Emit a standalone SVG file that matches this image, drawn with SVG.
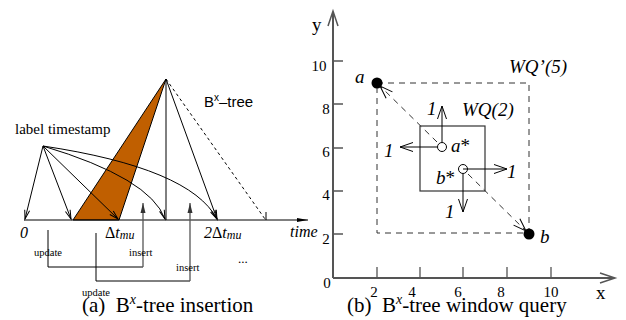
<svg xmlns="http://www.w3.org/2000/svg" width="626" height="320" viewBox="0 0 626 320">
<style>
.s{fill:none;stroke:#000;stroke-width:1}
.g{fill:none;stroke:#555;stroke-width:1.3}
.ax{fill:none;stroke:#555;stroke-width:2}
.d{fill:none;stroke:#333;stroke-width:1;stroke-dasharray:6 5}
.dd{fill:none;stroke:#000;stroke-width:1;stroke-dasharray:3 3}
.t{font-family:"Liberation Serif","Times New Roman",serif;fill:#000}
.i{font-style:italic}
.h{font-family:"Liberation Sans",Arial,sans-serif;fill:#000}
</style>
<defs>
<marker id="v" viewBox="-10 -5 12 10" refX="0" refY="0" markerWidth="12" markerHeight="10" markerUnits="userSpaceOnUse" orient="auto">
<path d="M-9,-2.5 L0,0 L-9,2.5" fill="none" stroke="#000" stroke-width="1"/>
</marker>
<marker id="f" viewBox="-12 -5 14 10" refX="0" refY="0" markerWidth="14" markerHeight="10" markerUnits="userSpaceOnUse" orient="auto">
<path d="M-11,-2 L0,0 L-11,2 Z" fill="#000"/>
</marker>
<marker id="fg" viewBox="-12 -5 14 10" refX="0" refY="0" markerWidth="14" markerHeight="10" markerUnits="userSpaceOnUse" orient="auto">
<path d="M-10,-2.5 L0,0 L-10,2.5 Z" fill="#333"/>
</marker>
<marker id="V" viewBox="-16 -8 18 16" refX="0" refY="0" markerWidth="18" markerHeight="16" markerUnits="userSpaceOnUse" orient="auto">
<path d="M-13,-4.5 L0,0 L-13,4.5" fill="none" stroke="#000" stroke-width="1"/>
</marker>
</defs>

<!-- Panel (a) -->
<g id="tree">
<polygon points="73,220 119,220 166,79" fill="#c05f00" stroke="#000" stroke-width="1"/>
</g>
<g id="timeaxis">
<path class="s" d="M24,220 H308" marker-end="url(#f)"/>
<path class="s" d="M266,212 V220"/>
</g>
<g id="connectors-a">
<path class="s" d="M43,146 L25,219" marker-end="url(#v)"/>
<path class="s" d="M43,146 L71,219" marker-end="url(#v)"/>
<path class="s" d="M43,146 L118,219" marker-end="url(#v)"/>
<path class="s" d="M43,146 Q150,178 165,219" marker-end="url(#v)"/>
<path class="s" d="M43,146 Q190,168 217,219" marker-end="url(#v)"/>
<path class="s" d="M166,79 V220"/>
<path class="s" d="M166,79 L217,219" marker-end="url(#v)"/>
<path class="dd" d="M166,79 L265,219"/>
<path class="s" d="M48,230 V267 H143"/>
<path class="s" d="M96,233 V281 H190"/>
<path class="g" d="M143,267 V203" marker-end="url(#fg)"/>
<path class="g" d="M190,281 V203" marker-end="url(#fg)"/>
</g>
<g id="labels-a">
<text class="t" x="15" y="134" font-size="15">label timestamp</text>
<text class="h" x="204" y="107" font-size="15">B<tspan font-size="10" dy="-6">x</tspan><tspan dy="6">–tree</tspan></text>
<text class="t i" x="20" y="238" font-size="16">0</text>
<text class="t" x="105" y="238" font-size="16">Δ<tspan class="i">t</tspan><tspan class="i" font-size="12" dy="1">mu</tspan></text>
<text class="t" x="204" y="238" font-size="16"><tspan class="i">2</tspan>Δ<tspan class="i">t</tspan><tspan class="i" font-size="12" dy="1">mu</tspan></text>
<text class="t i" x="290" y="237" font-size="16">time</text>
<text class="t" x="34" y="256" font-size="10.5">update</text>
<text class="t" x="129" y="256" font-size="10.5">insert</text>
<text class="t" x="176" y="271" font-size="10.5">insert</text>
<text class="t" x="82" y="296" font-size="10.5">update</text>
<text class="t" x="238" y="263" font-size="13">...</text>
<text class="t" x="82" y="312" font-size="21">(a)&#160; B<tspan class="i" font-size="14" dy="-8">x</tspan><tspan dy="8">-tree insertion</tspan></text>
</g>

<!-- Panel (b) -->
<g id="axes">
<path class="ax" d="M333,278 V12"/>
<path d="M328,26 L333,11 L338,26" fill="none" stroke="#555" stroke-width="1.5"/>
<path class="ax" d="M333,278 H613"/>
<path d="M600,273 L615,278 L600,283" fill="none" stroke="#555" stroke-width="1.5"/>
<path class="g" d="M333,61 H343 M333,104 H343 M333,148 H343 M333,191 H343 M333,234 H343"/>
<path class="g" d="M377,267 V278 M420,267 V278 M463,267 V278 M507,267 V278 M551,267 V278"/>
<text class="t" x="312" y="31" font-size="19">y</text>
<text class="t" x="596" y="299" font-size="19">x</text>
<g class="t" font-size="15" text-anchor="middle">
<text x="319" y="71">10</text>
<text x="326" y="114">8</text>
<text x="326" y="157">6</text>
<text x="326" y="200">4</text>
<text x="326" y="244">2</text>
<text x="327" y="288">0</text>
<text x="374" y="297">2</text>
<text x="412" y="297">4</text>
<text x="458" y="297">6</text>
<text x="501" y="297">8</text>
<text x="551" y="297">10</text>
</g>
</g>
<g id="WQ5">
<path class="d" d="M377,83 H529 V233 H377 Z"/>
<text class="t i" x="509" y="73" font-size="19">WQ’(5)</text>
</g>
<g id="WQ2">
<rect x="420" y="126" width="65" height="65" fill="none" stroke="#333" stroke-width="1.2"/>
<text class="t i" x="462" y="116" font-size="19">WQ(2)</text>
</g>
<g id="a">
<circle cx="377" cy="83" r="5.5" fill="#000"/>
<text class="t i" x="355" y="83" font-size="19">a</text>
</g>
<g id="b">
<circle cx="529" cy="234" r="5.5" fill="#000"/>
<text class="t i" x="540" y="243" font-size="19">b</text>
</g>
<g id="astar">
<circle cx="442" cy="147" r="4.5" fill="#fff" stroke="#000" stroke-width="1"/>
<text class="t" x="451" y="152" font-size="19"><tspan class="i">a</tspan>*</text>
</g>
<g id="bstar">
<circle cx="463" cy="169" r="4.5" fill="#fff" stroke="#000" stroke-width="1"/>
<text class="t" x="436" y="184" font-size="19"><tspan class="i">b</tspan>*</text>
</g>
<g id="connectors-b">
<path class="d" d="M437,142 L380,86" marker-end="url(#V)"/>
<path class="d" d="M468,174 L526,231" marker-end="url(#V)"/>
<path class="s" d="M442,142 V106" marker-end="url(#V)"/>
<path class="s" d="M437,147 H400" marker-end="url(#V)"/>
<path class="s" d="M463,169 H507" marker-end="url(#V)"/>
<path class="s" d="M463,174 V212" marker-end="url(#V)"/>
</g>
<g id="labels-b">
<text class="t i" x="427" y="115" font-size="19">1</text>
<text class="t i" x="384" y="157" font-size="19">1</text>
<text class="t i" x="507" y="178" font-size="19">1</text>
<text class="t i" x="445" y="218" font-size="19">1</text>
<text class="t" x="347" y="312" font-size="21">(b)&#160; B<tspan class="i" font-size="14" dy="-8">x</tspan><tspan dy="8">-tree window query</tspan></text>
</g>
</svg>
